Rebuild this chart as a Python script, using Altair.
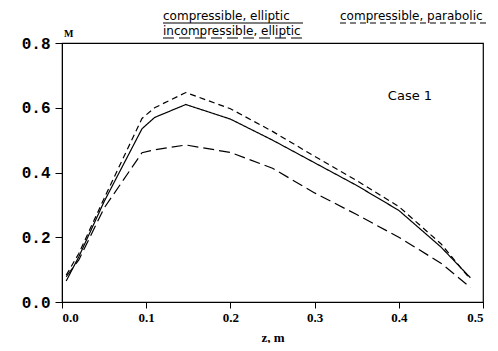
import altair as alt
import pandas as pd

z = [0.005, 0.02, 0.05, 0.095, 0.11, 0.147, 0.2, 0.25, 0.3, 0.35, 0.4, 0.45, 0.485]
comp_elliptic = [0.065, 0.14, 0.31, 0.535, 0.57, 0.61, 0.565, 0.50, 0.43, 0.36, 0.283, 0.17, 0.075]
comp_parabolic = [0.083, 0.15, 0.32, 0.567, 0.60, 0.647, 0.597, 0.527, 0.45, 0.375, 0.295, 0.18, 0.07]
incomp_elliptic = [0.078, 0.13, 0.29, 0.461, 0.47, 0.485, 0.462, 0.413, 0.337, 0.27, 0.20, 0.12, 0.045]

series = ["compressible, elliptic", "compressible, parabolic", "incompressible, elliptic"]
dashes = [[1, 0], [6, 4], [11, 5]]

rows = []
for name, vals in zip(series, [comp_elliptic, comp_parabolic, incomp_elliptic]):
    for zi, v in zip(z, vals):
        rows.append({"z": zi, "M": v, "series": name})
df = pd.DataFrame(rows)

xs = alt.Scale(domain=[0, 0.5], nice=False)
ys = alt.Scale(domain=[0, 0.8], nice=False)

lines = alt.Chart(df).mark_line(color="black", strokeWidth=1.2).encode(
    x=alt.X("z:Q", scale=xs, title="z, m",
            axis=alt.Axis(values=[0, 0.1, 0.2, 0.3, 0.4, 0.5], format=".1f", grid=False,
                          domainColor="black", tickColor="black", tickSize=6,
                          labelFont="Liberation Serif", labelFontWeight="bold", labelFontSize=13,
                          labelColor="black", labelPadding=3,
                          titleFont="Liberation Serif", titleFontWeight="bold", titleFontSize=13,
                          titleColor="black", titlePadding=7)),
    y=alt.Y("M:Q", scale=ys, title=None,
            axis=alt.Axis(values=[0, 0.2, 0.4, 0.6, 0.8], format=".1f", grid=False,
                          domainColor="black", tickColor="black", tickSize=7,
                          labelFont="Liberation Mono", labelFontWeight="bold", labelFontSize=16,
                          labelColor="black", labelPadding=5)),
    strokeDash=alt.StrokeDash("series:N", scale=alt.Scale(domain=series, range=dashes), legend=None),
    detail="series:N",
)

leg_text = pd.DataFrame({
    "label": series,
    "px": [101, 278, 101],
    "py": [-23, -23, -8],
})
legend_text = alt.Chart(leg_text).mark_text(
    align="left", baseline="alphabetic", font="DejaVu Sans", fontSize=12, color="black"
).encode(x=alt.X("px:Q", scale=None), y=alt.Y("py:Q", scale=None), text="label:N")

leg_lines = pd.DataFrame({
    "series": series,
    "x1": [101, 278, 101],
    "x2": [241, 428, 241],
    "yy": [-20, -20, -5],
})
legend_lines = alt.Chart(leg_lines).mark_rule(color="black", strokeWidth=1.1).encode(
    x=alt.X("x1:Q", scale=None), x2="x2:Q", y=alt.Y("yy:Q", scale=None),
    strokeDash=alt.StrokeDash("series:N", scale=alt.Scale(domain=series, range=dashes), legend=None),
)

case = alt.Chart(pd.DataFrame({"z": [0.387], "M": [0.625], "t": ["Case 1"]})).mark_text(
    align="left", baseline="alphabetic", font="DejaVu Sans", fontSize=13, color="black"
).encode(x=alt.X("z:Q", scale=xs), y=alt.Y("M:Q", scale=ys), text="t:N")

mlabel = alt.Chart(pd.DataFrame({"t": ["M"]})).mark_text(
    align="left", baseline="alphabetic", font="Liberation Serif", fontWeight="bold", fontSize=10, color="black"
).encode(x=alt.value(2), y=alt.value(-6), text="t:N")

chart = alt.layer(lines, legend_lines, legend_text, case, mlabel).properties(
    width=421, height=259,
    autosize=alt.AutoSizeParams(type="none"),
    padding={"left": 54, "top": 35, "right": 7, "bottom": 41},
    background="white",
).configure_view(stroke="black", strokeWidth=1.2)

chart.save("out.html", embed_options={"renderer": "svg", "actions": False})
